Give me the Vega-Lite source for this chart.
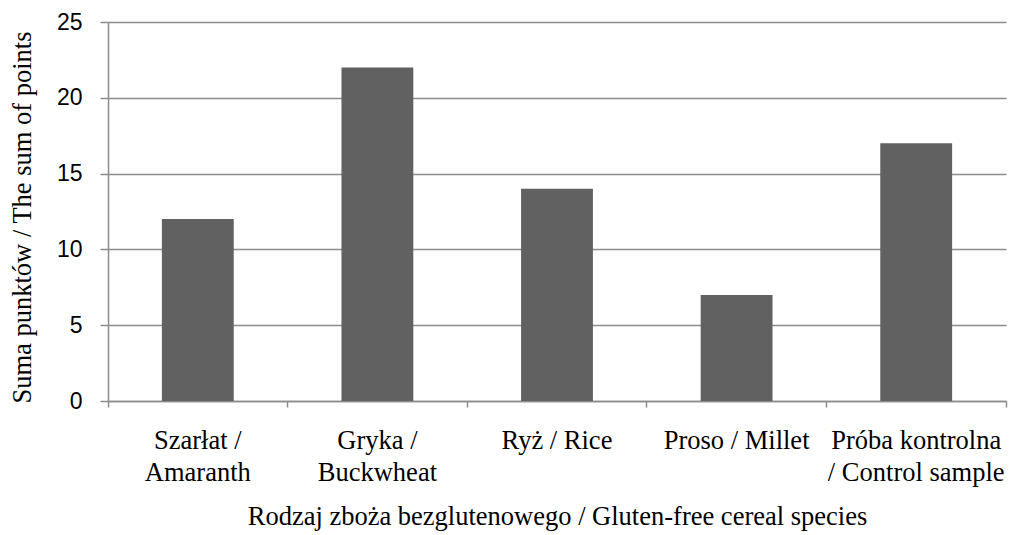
{
  "$schema": "https://vega.github.io/schema/vega-lite/v6.json",
  "width": 898,
  "height": 379,
  "autosize": {"type": "none"},
  "padding": {"left": 108, "top": 22, "right": 3, "bottom": 134},
  "background": "white",
  "config": {"view": {"stroke": null}},
  "data": {"values": [
    {"species": "Szarłat / Amaranth", "points": 12},
    {"species": "Gryka / Buckwheat", "points": 22},
    {"species": "Ryż / Rice", "points": 14},
    {"species": "Proso / Millet", "points": 7},
    {"species": "Próba kontrolna / Control sample", "points": 17}
  ]},
  "mark": {"type": "bar", "color": "#616161", "width": {"band": 0.4}},
  "encoding": {
    "x": {
      "field": "species", "type": "nominal", "sort": null,
      "scale": {"paddingInner": 0, "paddingOuter": 0},
      "axis": {
        "title": "Rodzaj zboża bezglutenowego / Gluten-free cereal species",
        "titleFont": "Liberation Serif", "titleFontSize": 26.5, "titleFontWeight": "normal", "titleColor": "#000",
        "titlePadding": 18,
        "labelAngle": 0,
        "labelFont": "Liberation Serif", "labelFontSize": 26.5, "labelColor": "#000",
        "labelLineHeight": 32,
        "labelPadding": 20,
        "labelLimit": 300,
        "labelExpr": "datum.label == 'Szarłat / Amaranth' ? ['Szarłat /', 'Amaranth'] : datum.label == 'Gryka / Buckwheat' ? ['Gryka /', 'Buckwheat'] : datum.label == 'Próba kontrolna / Control sample' ? ['Próba kontrolna', '/ Control sample'] : datum.label",
        "bandPosition": 1, "tickExtra": true,
        "tickSize": 6, "tickColor": "#8c8c8c", "tickWidth": 1.5,
        "domainColor": "#8c8c8c", "domainWidth": 1.5,
        "grid": false
      }
    },
    "y": {
      "field": "points", "type": "quantitative",
      "scale": {"domain": [0, 25], "nice": false},
      "axis": {
        "title": "Suma punktów / The sum of points",
        "titleFont": "Liberation Serif", "titleFontSize": 26.5, "titleFontWeight": "normal", "titleColor": "#000",
        "titleX": -86, "titleY": 195, "titleBaseline": "middle",
        "values": [0, 5, 10, 15, 20, 25],
        "labelFont": "Liberation Sans", "labelFontSize": 23, "labelColor": "#000",
        "labelPadding": 18,
        "tickSize": 8, "tickColor": "#8c8c8c", "tickWidth": 1.5,
        "domainColor": "#8c8c8c", "domainWidth": 1.5,
        "grid": true, "gridColor": "#8c8c8c", "gridWidth": 1.5
      }
    }
  }
}
